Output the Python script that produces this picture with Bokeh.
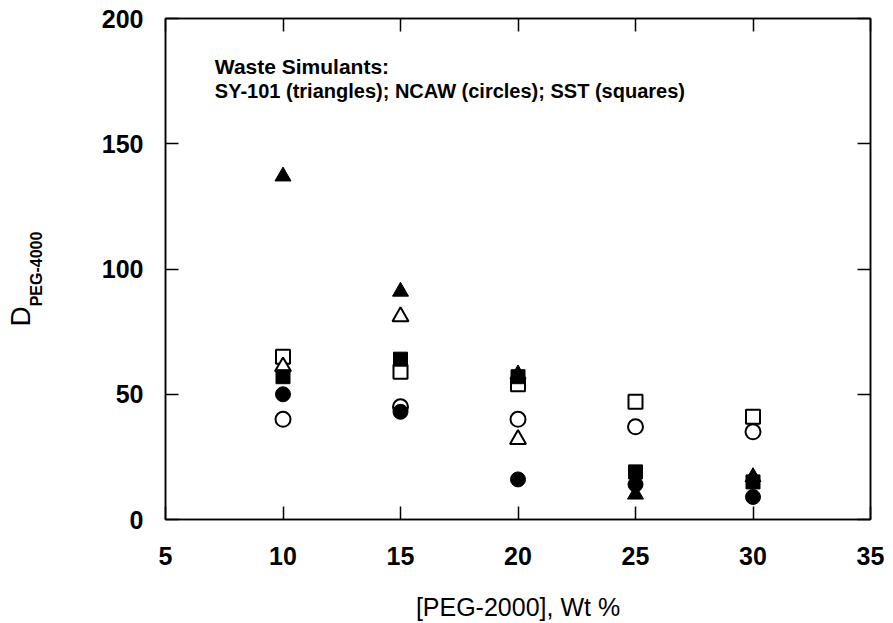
import math
from bokeh.plotting import figure
from bokeh.models import LinearAxis, SingleIntervalTicker, Label, Range1d, Title
from bokeh.embed import file_html
from bokeh.resources import INLINE

# ---- data ----
peg_wt = [10, 15, 20, 25, 30]

sy101_filled = [137, 91, 58, 10, 17]        # filled triangles
sy101_open_x = [10, 15, 20]
sy101_open = [61, 81, 32]                   # open triangles

ncaw_filled = [50, 43, 16, 14, 9]           # filled circles
ncaw_open = [40, 45, 40, 37, 35]            # open circles

sst_filled = [57, 64, 57, 19, 15]           # filled squares
sst_open = [65, 59, 54, 47, 41]             # open squares

x_ticks_interval = 5
y_ticks_interval = 50

FONT = "Liberation Sans"

p = figure(width=893, height=623, x_range=Range1d(5, 35), y_range=Range1d(0, 200),
           output_backend="svg", toolbar_location=None,
           min_border_left=165, min_border_right=23, min_border_top=18, min_border_bottom=104,
           x_axis_label="[PEG-2000], Wt %", y_axis_label="PEG-4000")
p.grid.visible = False
p.outline_line_color = "black"
p.outline_line_width = 1.5
p.background_fill_color = "white"
p.border_fill_color = "white"

for ax in p.xaxis:
    ax.ticker = SingleIntervalTicker(interval=x_ticks_interval, num_minor_ticks=0)
for ax in p.yaxis:
    ax.ticker = SingleIntervalTicker(interval=y_ticks_interval, num_minor_ticks=0)

def style(ax, labels=True):
    ax.axis_line_color = "black"
    ax.axis_line_width = 1.5
    ax.major_tick_line_color = "black"
    ax.major_tick_line_width = 1.5
    ax.major_tick_in = 13
    ax.major_tick_out = 0
    ax.minor_tick_line_color = None
    if labels:
        ax.major_label_text_font = FONT
        ax.major_label_text_font_style = "bold"
        ax.major_label_text_font_size = "25px"
        ax.major_label_text_color = "black"
    else:
        ax.major_label_text_color = None
        ax.major_label_text_font_size = "1px"
        ax.major_label_standoff = 0

style(p.xaxis[0])
style(p.yaxis[0])
p.xaxis[0].major_label_standoff = 27
p.yaxis[0].major_label_standoff = 22
p.xaxis[0].axis_label_text_font = FONT
p.xaxis[0].axis_label_text_font_style = "normal"
p.xaxis[0].axis_label_text_font_size = "25px"
p.xaxis[0].axis_label_text_color = "black"
p.xaxis[0].axis_label_standoff = 25

# subscript of the y label
p.yaxis[0].axis_label_text_font = FONT
p.yaxis[0].axis_label_text_font_style = "bold"
p.yaxis[0].axis_label_text_font_size = "16px"
p.yaxis[0].axis_label_text_color = "black"
p.yaxis[0].axis_label_standoff = 54

top = LinearAxis(ticker=SingleIntervalTicker(interval=x_ticks_interval, num_minor_ticks=0))
right = LinearAxis(ticker=SingleIntervalTicker(interval=y_ticks_interval, num_minor_ticks=0))
style(top, labels=False)
style(right, labels=False)
p.add_layout(top, "above")
p.add_layout(right, "right")

# main letter of the y label
d_title = Title(text="D", align="left", vertical_align="bottom", offset=193,
                standoff=-23, text_font=FONT, text_font_style="normal",
                text_font_size="28px", text_color="black")
p.add_layout(d_title, "left")

# ---- markers ----
lw = 2
p.scatter(peg_wt, sst_open, marker="square", size=14, fill_color="white",
          line_color="black", line_width=lw)
p.scatter(peg_wt, ncaw_open, marker="circle", size=15, fill_color="white",
          line_color="black", line_width=lw)
p.scatter(sy101_open_x, sy101_open, marker="triangle", size=16, fill_color="white",
          line_color="black", line_width=lw)
p.scatter(peg_wt, sst_filled, marker="square", size=14, fill_color="black",
          line_color="black", line_width=1)
p.scatter(peg_wt, ncaw_filled, marker="circle", size=15, fill_color="black",
          line_color="black", line_width=1)
p.scatter(peg_wt, sy101_filled, marker="triangle", size=16, fill_color="black",
          line_color="black", line_width=1)

# ---- in-plot note ----
p.add_layout(Label(x=7.1, y=181, text="Waste Simulants:", text_font=FONT, text_font_style="bold",
                   text_font_size="21px", text_color="black", text_baseline="middle",
                   text_align="left"))
p.add_layout(Label(x=7.1, y=171, text="SY-101 (triangles); NCAW (circles); SST (squares)",
                   text_font=FONT, text_font_style="bold",
                   text_font_size="20px", text_color="black", text_baseline="middle",
                   text_align="left"))

open("out.html", "w").write(file_html(p, INLINE))
